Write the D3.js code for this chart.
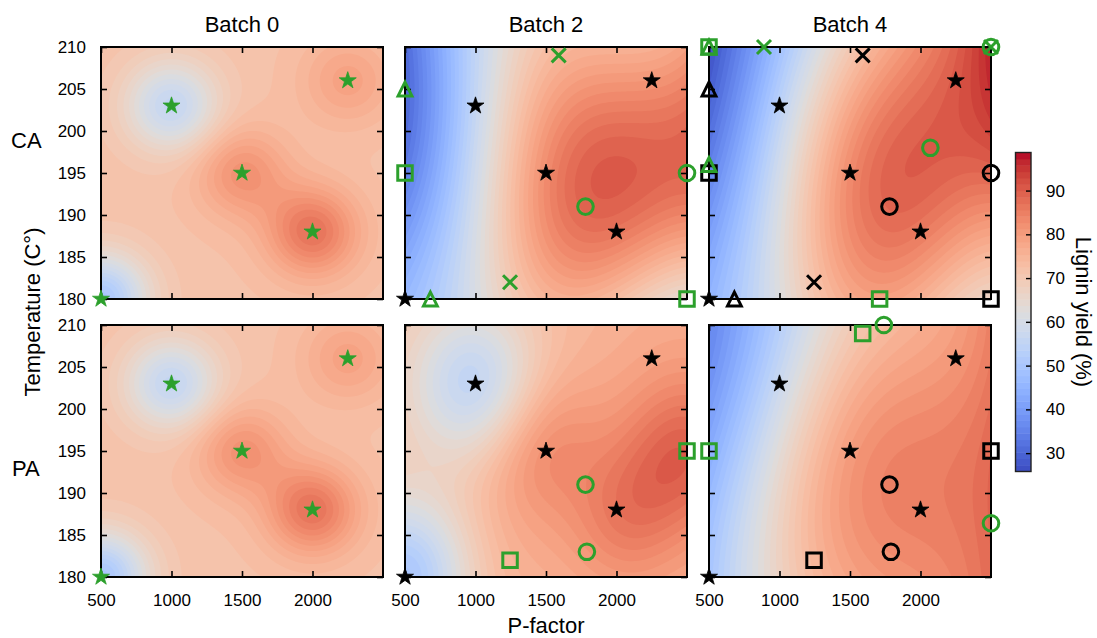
<!DOCTYPE html>
<html>
<head>
<meta charset="utf-8">
<script src="https://cdn.jsdelivr.net/npm/d3@7"></script>
<style>
  body { margin: 0; background: #fff; }
  svg { display: block; font-family: "Liberation Sans", Arial, sans-serif; }
</style>
</head>
<body>
<svg id="chart" width="1097" height="638"></svg>
<script>
// Axis ranges and ticks
const pRange = [500, 2500];
const tRange = [180, 210];
const pTicks = [500, 1000, 1500, 2000];
const tTicks = [180, 185, 190, 195, 200, 205, 210];
const cbarTicks = [30, 40, 50, 60, 70, 80, 90];
const yieldRange = [25.8, 98.7];

const batchTitles = ["Batch 0", "Batch 2", "Batch 4"];
const rowNames = ["CA", "PA"];

// Initial design (batch 0): [P-factor, temperature, lignin yield]
const initialPoints = [
    [500, 180, 50],
    [1000, 203, 56],
    [1500, 195, 82],
    [2000, 188, 87],
    [2250, 206, 79]
];

// Points added per batch: [P-factor, temperature, yield, marker]
const caBatch2 = [
    [500, 205, 30, "triangle"],
    [680, 180, 47, "triangle"],
    [500, 195, 33, "square"],
    [2500, 180, 62, "square"],
    [1245, 182, 71, "x"],
    [1590, 209, 76, "x"],
    [1780, 191, 90, "circle"],
    [2500, 195, 91, "circle"]
];
const caBatch4 = [
    [500, 210, 27, "square"],
    [1710, 180, 80, "square"],
    [500, 210, 27, "triangle"],
    [500, 196, 34, "triangle"],
    [890, 210, 40, "x"],
    [2500, 210, 100, "x"],
    [2070, 198, 95, "circle"],
    [2500, 210, 100, "circle"]
];
const paBatch2 = [
    [1245, 182, 75, "square"],
    [2500, 195, 90, "square"],
    [1780, 191, 84, "circle"],
    [1790, 183, 81, "circle"]
];
const paBatch4 = [
    [500, 195, 43, "square"],
    [1590, 209, 72, "square"],
    [1740, 210, 74, "circle"],
    [2500, 186.4, 87, "circle"]
];

// GP surrogate settings per panel [row][col]: linear prior mean in P, length scales, noise
const gpMean0 = [[72, 34, 30], [72, 72, 42]];
const gpMeanSlope = [[0, 60, 66], [0, 4, 58]];
const gpLengthP = [[0.115, 0.4, 0.4], [0.115, 0.16, 0.35]];
const gpLengthT = [[0.125, 0.6, 0.7], [0.125, 0.22, 0.6]];
const gpNoise = [[0.0001, 0.02, 0.04], [0.0001, 0.01, 0.05]];

// coolwarm colormap
const coolwarm = [
    [59,76,192],[68,90,204],[77,104,215],[87,117,225],[98,130,234],[108,142,241],
    [119,154,247],[130,165,251],[141,176,254],[152,185,255],[163,194,255],[174,201,253],
    [184,208,249],[194,213,244],[204,217,238],[213,219,230],[221,221,221],[229,216,209],
    [236,211,197],[241,204,185],[245,196,173],[247,187,160],[247,177,148],[247,166,135],
    [244,154,123],[241,141,111],[236,127,99],[229,112,88],[222,96,77],[213,80,66],
    [203,62,56],[192,40,47],[180,4,38]
];
const cmap = d3.scaleLinear()
    .domain(coolwarm.map((c, i) => i / (coolwarm.length - 1)))
    .range(coolwarm.map(c => `rgb(${c[0]},${c[1]},${c[2]})`))
    .interpolate(d3.interpolateRgb)
    .clamp(true);

const nBands = 50;
const levelStep = (yieldRange[1] - yieldRange[0]) / nBands;
const levels = d3.range(nBands + 1).map(i => yieldRange[0] + i * levelStep);
const bandColor = v => cmap((v - yieldRange[0]) / (yieldRange[1] - yieldRange[0]));

// Layout
const W = 282, H = 252;
const colX = [101, 405, 709];
const rowY = [47, 325];
const green = "#2ca02c";

const svg = d3.select("#chart");

// Solve a linear system with Gaussian elimination
function solve(A, b) {
    const n = b.length;
    const M = A.map((row, i) => [...row, b[i]]);
    for (let c = 0; c < n; c++) {
        let piv = c;
        for (let r = c + 1; r < n; r++) {
            if (Math.abs(M[r][c]) > Math.abs(M[piv][c])) piv = r;
        }
        [M[c], M[piv]] = [M[piv], M[c]];
        for (let r = c + 1; r < n; r++) {
            const f = M[r][c] / M[c][c];
            for (let k = c; k <= n; k++) M[r][k] -= f * M[c][k];
        }
    }
    const x = new Array(n).fill(0);
    for (let r = n - 1; r >= 0; r--) {
        let s = M[r][n];
        for (let k = r + 1; k < n; k++) s -= M[r][k] * x[k];
        x[r] = s / M[r][r];
    }
    return x;
}

// GP posterior mean through the observed points
function gpSurface(points, m0, m1, lp, lt, noise) {
    const u = points.map(d => (d[0] - pRange[0]) / (pRange[1] - pRange[0]));
    const v = points.map(d => (d[1] - tRange[0]) / (tRange[1] - tRange[0]));
    const kern = (a1, b1, a2, b2) =>
        Math.exp(-0.5 * (((a1 - a2) / lp) ** 2 + ((b1 - b2) / lt) ** 2));
    const K = points.map((_, i) => points.map((_, j) =>
        kern(u[i], v[i], u[j], v[j]) + (i === j ? noise : 0)));
    const alpha = solve(K, points.map((d, i) => d[2] - (m0 + m1 * u[i])));
    return (p, t) => {
        const a = (p - pRange[0]) / (pRange[1] - pRange[0]);
        const b = (t - tRange[0]) / (tRange[1] - tRange[0]);
        let s = m0 + m1 * a;
        for (let i = 0; i < points.length; i++) s += alpha[i] * kern(a, b, u[i], v[i]);
        return s;
    };
}

// Marker paths
const markerPath = {
    star: d3.symbol(d3.symbolStar, 90)(),
    circle: d3.symbol(d3.symbolCircle, Math.PI * 7.8 * 7.8)(),
    square: d3.symbol(d3.symbolSquare, 14.5 * 14.5)(),
    triangle: "M0,-6.9L6.9,6.9L-6.9,6.9Z",
    x: "M-7,-7L7,7M-7,7L7,-7"
};

// Panels
const panels = [];
rowNames.forEach((rowName, r) => {
    const b2 = r === 0 ? caBatch2 : paBatch2;
    const b4 = r === 0 ? caBatch4 : paBatch4;
    const stars = initialPoints.map(d => [d[0], d[1], d[2], "star"]);
    panels.push({ r, c: 0, old: [], fresh: stars });
    panels.push({ r, c: 1, old: stars, fresh: b2 });
    panels.push({ r, c: 2, old: stars.concat(b2), fresh: b4 });
});

const nx = 141, ny = 126;
const x = d3.scaleLinear().domain(pRange).range([0, W]);
const y = d3.scaleLinear().domain(tRange).range([H, 0]);

const heatLayer = svg.append("g");
const axisLayer = svg.append("g");
const markerLayer = svg.append("g");

panels.forEach(pn => {
    const pts = pn.old.concat(pn.fresh);
    const f = gpSurface(pts, gpMean0[pn.r][pn.c], gpMeanSlope[pn.r][pn.c],
        gpLengthP[pn.r][pn.c], gpLengthT[pn.r][pn.c], gpNoise[pn.r][pn.c]);
    const values = new Array(nx * ny);
    for (let j = 0; j < ny; j++) {
        for (let i = 0; i < nx; i++) {
            values[j * nx + i] = f(x.invert((i + 0.5) * W / nx), y.invert((j + 0.5) * H / ny));
        }
    }
    const contours = d3.contours().size([nx, ny]).thresholds(levels)(values);
    const path = d3.geoPath(d3.geoIdentity().scale(W / nx));

    const g = heatLayer.append("g")
        .attr("transform", `translate(${colX[pn.c]},${rowY[pn.r]})`);
    g.append("rect")
        .attr("width", W).attr("height", H)
        .attr("fill", bandColor(levels[0] + levelStep / 2));
    g.selectAll("path")
        .data(contours)
        .join("path")
        .attr("d", path)
        .attr("fill", d => bandColor(Math.min(d.value + levelStep / 2, yieldRange[1])));

    // frame and inward ticks
    const a = axisLayer.append("g")
        .attr("transform", `translate(${colX[pn.c]},${rowY[pn.r]})`);
    a.append("g").attr("transform", `translate(0,${H})`)
        .call(d3.axisBottom(x).tickValues(pTicks).tickSize(-6).tickPadding(17)
            .tickFormat(pn.r === 1 ? d3.format("d") : ""));
    a.append("g")
        .call(d3.axisTop(x).tickValues(pTicks).tickSize(-6).tickFormat(""));
    a.append("g")
        .call(d3.axisLeft(y).tickValues(tTicks).tickSize(-6).tickPadding(15)
            .tickFormat(pn.c === 0 ? d3.format("d") : ""));
    a.append("g").attr("transform", `translate(${W},0)`)
        .call(d3.axisRight(y).tickValues(tTicks).tickSize(-6).tickFormat(""));
    a.selectAll(".domain").remove();
    a.selectAll(".tick line").attr("stroke", "#000").attr("stroke-width", 1.6);
    a.selectAll("g").attr("font-size", 17).attr("font-family", null);
    a.selectAll(".tick text").attr("fill", "#000");
    a.append("rect")
        .attr("width", W).attr("height", H)
        .attr("fill", "none").attr("stroke", "#000").attr("stroke-width", 2);

    // markers: earlier batches in black, current batch in green
    const m = markerLayer.append("g")
        .attr("transform", `translate(${colX[pn.c]},${rowY[pn.r]})`);
    const drawMarkers = (data, color) => {
        m.append("g").selectAll("path")
            .data(data)
            .join("path")
            .attr("transform", d => `translate(${x(d[0])},${y(d[1])})`)
            .attr("d", d => markerPath[d[3]])
            .attr("fill", d => d[3] === "star" ? color : "none")
            .attr("stroke", color)
            .attr("stroke-width", d => d[3] === "star" ? 0.8 : 3)
            .attr("stroke-linejoin", "miter");
    };
    drawMarkers(pn.old, "#000");
    drawMarkers(pn.fresh, green);
});

// Titles and labels
batchTitles.forEach((t, c) => {
    svg.append("text")
        .attr("x", colX[c] + W / 2).attr("y", 32)
        .attr("text-anchor", "middle")
        .attr("font-size", 22)
        .text(t);
});
svg.append("text").attr("x", 11).attr("y", 148).attr("font-size", 22).text(rowNames[0]);
svg.append("text").attr("x", 12).attr("y", 476).attr("font-size", 22).text(rowNames[1]);

svg.append("text")
    .attr("transform", `translate(40,312) rotate(-90)`)
    .attr("text-anchor", "middle")
    .attr("font-size", 22)
    .text("Temperature (C°)");
svg.append("text")
    .attr("x", colX[1] + W / 2).attr("y", 633)
    .attr("text-anchor", "middle")
    .attr("font-size", 22)
    .text("P-factor");

// Colorbar
const cbX = 1015.5, cbW = 15.5, cbTop = 152.5, cbBottom = 471.5;
const cbScale = d3.scaleLinear().domain(yieldRange).range([cbBottom, cbTop]);
const cb = svg.append("g");
cb.selectAll("rect")
    .data(d3.range(nBands))
    .join("rect")
    .attr("x", cbX)
    .attr("width", cbW)
    .attr("y", i => cbScale(levels[i + 1]))
    .attr("height", i => cbScale(levels[i]) - cbScale(levels[i + 1]) + 0.5)
    .attr("fill", i => bandColor(levels[i] + levelStep / 2));
const cbAxis = cb.append("g")
    .attr("transform", `translate(${cbX + cbW},0)`)
    .call(d3.axisRight(cbScale).tickValues(cbarTicks).tickSize(-5).tickPadding(15));
cbAxis.select(".domain").remove();
cbAxis.attr("font-size", 17).attr("font-family", null);
cbAxis.selectAll(".tick line").attr("stroke", "#000").attr("stroke-width", 1.4);
cb.append("rect")
    .attr("x", cbX).attr("y", cbTop)
    .attr("width", cbW).attr("height", cbBottom - cbTop)
    .attr("fill", "none").attr("stroke", "#222").attr("stroke-width", 1.4);
svg.append("text")
    .attr("transform", `translate(1076,312) rotate(90)`)
    .attr("text-anchor", "middle")
    .attr("font-size", 22)
    .text("Lignin yield (%)");
</script>
</body>
</html>
